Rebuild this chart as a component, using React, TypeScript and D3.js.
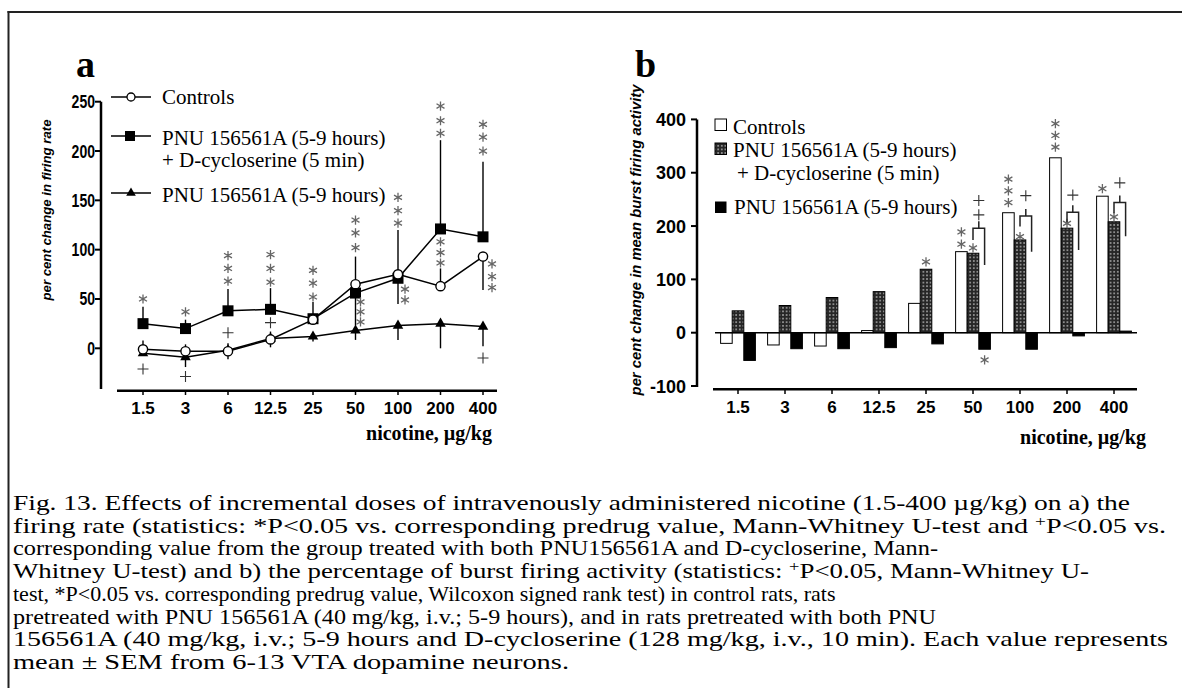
import React from "react";
import * as d3 from "d3";

// ---------- DATA ----------
const doses = ["1.5", "3", "6", "12.5", "25", "50", "100", "200", "400"];

// Panel a: per cent change in firing rate
const ctrlRate = [-1, -3, -3, 9, 29, 65, 75, 63, 93];
const dcsRate = [25, 20, 38, 39.5, 30, 56, 71, 121, 113];
const pnuRate = [-5, -9, -2, 10, 12, 18, 23, 25, 22];
// error bar end values (null = none drawn)
const ctrlRateErrUp = [8, 4, 5, 17, null, null, null, 81, null];
const ctrlRateErrDown = [null, null, -11, 1, null, 23, 45, null, 59];
const dcsRateErrUp = [42, 29, 60, 61, 47, 93, 120, 211, 189];
const pnuRateErrDown = [null, -19, null, null, 7, 8.5, 8.5, 0, 2];

// Panel b: per cent change in mean burst firing activity
const ctrlBurst = [-20, -23, -25, 4, 55, 152, 225, 328, 256];
const dcsBurst = [41, 51, 66, 77, 119, 149, 174, 196, 208];
const pnuBurst = [-52, -30, -30, -28, -21, -31, -31, -6, 3];

const yTicksA = [0, 50, 100, 150, 200, 250];
const yTicksB = [-100, 0, 100, 200, 300, 400];

// significance marks, panel a: [dose index, x offset, values of stacked marks]
const starsA: [number, number, number[]][] = [
  [0, 0, [50]],
  [1, 0, [37]],
  [2, 0, [94, 81, 68]],
  [3, 0, [95, 81, 67]],
  [4, 0, [79, 66, 52]],
  [5, 0, [130, 117, 102]],
  [6, 0, [153, 139.5, 127]],
  [7, 0, [245.6, 230.7, 218]],
  [8, 0, [227, 214, 200]],
  [7, 0, [108, 97, 86.5]],
  [5, 5, [47, 37, 26.7]],
  [6, 7, [60, 49]],
  [8, 9, [85.5, 72.7, 61.6]],
];
const plusA: [number, number][] = [
  [0, -21],
  [1, -28.6],
  [2, 15.8],
  [3, 26],
  [8, -9.8],
];

// panel b marks: [dose index, bar (0 ctrl,1 dcs,2 pnu), values]
const starsB: [number, number, number[]][] = [
  [4, 1, [133]],
  [5, 0, [189, 166]],
  [5, 1, [159]],
  [5, 2, [-51]],
  [6, 0, [288, 266, 244]],
  [6, 1, [180]],
  [7, 0, [392, 370, 348]],
  [7, 1, [205]],
  [8, 0, [270]],
  [8, 1, [217]],
];
// brackets: [dose index, top, left leg bottom, right leg bottom, plus values]
const bracketsB: [number, number, number, number, number[]][] = [
  [5, 196, 174, 127, [248, 221]],
  [6, 219, 199, 152, [257]],
  [7, 226, 207, 155, [258]],
  [8, 244, 224, 181, [281]],
];

const legendLabels = ["Controls", "PNU 156561A (5-9 hours)", "+ D-cycloserine (5 min)", "PNU 156561A (5-9 hours)"];

const captionLines: (string | { sup: string; text: string })[][] = [
  ["Fig. 13. Effects of incremental doses of intravenously administered nicotine (1.5-400 \u00b5g/kg) on a) the"],
  ["firing rate (statistics: *P<0.05 vs. corresponding predrug value, Mann-Whitney U-test and ", { sup: "+", text: "P<0.05 vs." }],
  ["corresponding value from the group treated with both PNU156561A and D-cycloserine, Mann-"],
  ["Whitney U-test) and b) the percentage of burst firing activity  (statistics: ", { sup: "+", text: "P<0.05, Mann-Whitney U-" }],
  ["test, *P<0.05 vs. corresponding predrug value, Wilcoxon signed rank test) in control rats, rats"],
  ["pretreated with PNU 156561A (40 mg/kg, i.v.; 5-9 hours), and in rats pretreated with both PNU"],
  ["156561A (40 mg/kg, i.v.; 5-9 hours and D-cycloserine (128 mg/kg, i.v., 10 min). Each value represents"],
  ["mean \u00b1 SEM from 6-13 VTA dopamine neurons."],
];
// target line widths (null = natural width)
const captionWidths: (number | null)[] = [1117, 1153, 925, 1076, null, 923, 1155, 556];

// ---------- STYLE ----------
const serif = "'Liberation Serif', 'Times New Roman', serif";
const sans = "'Liberation Sans', Arial, sans-serif";
const starColor = "#666";

function Star({ x, y }: { x: number; y: number }) {
  const r = 4.6;
  const a = r * Math.cos(Math.PI / 6);
  const b = r * Math.sin(Math.PI / 6);
  return (
    <path
      d={`M${x},${y - r}V${y + r}M${x - a},${y - b}L${x + a},${y + b}M${x - a},${y + b}L${x + a},${y - b}`}
      stroke={starColor}
      strokeWidth={1.3}
      fill="none"
    />
  );
}
function Plus({ x, y }: { x: number; y: number }) {
  const r = 5.5;
  return <path d={`M${x - r},${y}H${x + r}M${x},${y - r}V${y + r}`} stroke="#333" strokeWidth={1.1} fill="none" />;
}

export default function App() {
  // Panel a scales
  const xA = d3.scalePoint<string>().domain(doses).range([143, 483]);
  const yA = d3.scaleLinear().domain([0, 250]).range([348.3, 101.7]);
  // Panel b scales
  const xB = d3.scalePoint<string>().domain(doses).range([738, 1114]);
  const yB = d3.scaleLinear().domain([0, 400]).range([332.7, 119.4]);
  const barW = 11.6;
  const barX = (i: number, k: number) => (xB(doses[i]) as number) - 1.5 * barW + k * barW;

  const line = (vals: number[]) =>
    d3
      .line<number>()
      .x((_, i) => xA(doses[i]) as number)
      .y((d) => yA(d))(vals) as string;

  const tri = d3.symbol(d3.symbolTriangle, 48)() as string;
  const sq = d3.symbol(d3.symbolSquare, 121)() as string;
  const triL = d3.symbol(d3.symbolTriangle, 40)() as string;
  const sqL = d3.symbol(d3.symbolSquare, 100)() as string;

  const errLines = (vals: number[], ends: (number | null)[], key: string) =>
    ends.map((e, i) =>
      e === null ? null : (
        <line
          key={key + i}
          x1={xA(doses[i])}
          x2={xA(doses[i])}
          y1={yA(vals[i])}
          y2={yA(e)}
          stroke="#000"
          strokeWidth={1.4}
        />
      )
    );

  const seriesB = [ctrlBurst, dcsBurst, pnuBurst];
  const fillsB = ["#fff", "url(#chk)", "#000"];

  return (
    <svg width={1182} height={688} style={{ position: "absolute", left: 0, top: 0, background: "#fff" }}>
      <defs>
        <pattern id="chk" width={3.6} height={3.6} patternUnits="userSpaceOnUse">
          <rect width={3.6} height={3.6} fill="#262626" />
          <rect x={1.1} y={1.1} width={1.4} height={1.4} fill="#d0d0d0" />
        </pattern>
      </defs>
      {/* frame */}
      <line x1={8.5} x2={8.5} y1={11} y2={688} stroke="#222" strokeWidth={2} />
      <line x1={7.5} x2={1182} y1={12} y2={12} stroke="#222" strokeWidth={2} />

      {/* ---------------- PANEL A ---------------- */}
      <text x={76} y={77} fontFamily={serif} fontWeight="bold" fontSize={38}>
        a
      </text>
      {/* y axis */}
      <line x1={101} x2={101} y1={yA(250)} y2={389} stroke="#000" strokeWidth={2.5} />
      {yTicksA.map((t) => (
        <g key={t}>
          <line x1={95} x2={101} y1={yA(t)} y2={yA(t)} stroke="#000" strokeWidth={2} />
          <text
            transform={`translate(95,${yA(t) + 6.5}) scale(0.78,1)`}
            textAnchor="end"
            fontFamily={sans}
            fontWeight="bold"
            fontSize={18}
          >
            {t}
          </text>
        </g>
      ))}
      <text
        transform="translate(51,210) rotate(-90)"
        textAnchor="middle"
        fontFamily={sans}
        fontStyle="italic"
        fontWeight="bold"
        fontSize={13.2}
      >
        per cent change in firing rate
      </text>
      {/* x axis */}
      <line x1={117} x2={497} y1={390.7} y2={390.7} stroke="#000" strokeWidth={2.5} />
      {doses.map((d) => (
        <g key={d}>
          <line x1={xA(d)} x2={xA(d)} y1={390.7} y2={395} stroke="#000" strokeWidth={1.5} />
          <text x={xA(d)} y={414} textAnchor="middle" fontFamily={sans} fontWeight="bold" fontSize={17}>
            {d}
          </text>
        </g>
      ))}
      <text x={492} y={440} textAnchor="end" fontFamily={serif} fontWeight="bold" fontSize={20}>
        nicotine, µg/kg
      </text>

      {/* error bars */}
      {errLines(dcsRate, dcsRateErrUp, "du")}
      {errLines(ctrlRate, ctrlRateErrUp, "cu")}
      {errLines(ctrlRate, ctrlRateErrDown, "cd")}
      {errLines(pnuRate, pnuRateErrDown, "pd")}

      {/* lines */}
      <path d={line(pnuRate)} fill="none" stroke="#000" strokeWidth={1.5} />
      <path d={line(dcsRate)} fill="none" stroke="#000" strokeWidth={1.5} />
      <path d={line(ctrlRate)} fill="none" stroke="#000" strokeWidth={1.5} />
      {pnuRate.map((v, i) => (
        <path key={"pt" + i} d={tri} transform={`translate(${xA(doses[i])},${yA(v)})`} fill="#000" />
      ))}
      {dcsRate.map((v, i) => (
        <path key={"ds" + i} d={sq} transform={`translate(${xA(doses[i])},${yA(v)})`} fill="#000" />
      ))}
      {ctrlRate.map((v, i) => (
        <circle key={"cc" + i} cx={xA(doses[i])} cy={yA(v)} r={4.6} fill="#fff" stroke="#000" strokeWidth={1.4} />
      ))}

      {/* marks */}
      {starsA.map(([i, dx, vs], k) =>
        vs.map((v, j) => <Star key={`sa${k}-${j}`} x={(xA(doses[i]) as number) + dx} y={yA(v)} />)
      )}
      {plusA.map(([i, v], k) => (
        <Plus key={"pa" + k} x={xA(doses[i]) as number} y={yA(v)} />
      ))}

      {/* legend a */}
      <g>
        <line x1={111} x2={151} y1={97} y2={97} stroke="#000" strokeWidth={1.5} />
        <circle cx={131} cy={97} r={4} fill="#fff" stroke="#000" strokeWidth={1.3} />
        <text x={162} y={104} fontFamily={serif} fontSize={21}>
          {legendLabels[0]}
        </text>
        <line x1={111} x2={151} y1={136} y2={136} stroke="#000" strokeWidth={1.5} />
        <path d={sqL} transform="translate(130,136)" fill="#000" />
        <text x={162} y={145} fontFamily={serif} fontSize={21}>
          {legendLabels[1]}
        </text>
        <text x={162} y={167} fontFamily={serif} fontSize={21}>
          {legendLabels[2]}
        </text>
        <line x1={111} x2={151} y1={193} y2={193} stroke="#000" strokeWidth={1.5} />
        <path d={triL} transform="translate(131,193)" fill="#000" />
        <text x={162} y={202} fontFamily={serif} fontSize={21}>
          {legendLabels[3]}
        </text>
      </g>

      {/* ---------------- PANEL B ---------------- */}
      <text x={635} y={77} fontFamily={serif} fontWeight="bold" fontSize={38}>
        b
      </text>
      <line x1={697} x2={697} y1={yB(400)} y2={yB(-100) + 1} stroke="#000" strokeWidth={2.5} />
      {yTicksB.map((t) => (
        <g key={t}>
          <line x1={691} x2={697} y1={yB(t)} y2={yB(t)} stroke="#000" strokeWidth={2} />
          <text x={686} y={yB(t) + 6.5} textAnchor="end" fontFamily={sans} fontWeight="bold" fontSize={18}>
            {t}
          </text>
        </g>
      ))}
      <text
        transform="translate(641,240) rotate(-90)"
        textAnchor="middle"
        fontFamily={sans}
        fontStyle="italic"
        fontWeight="bold"
        fontSize={14.8}
      >
        per cent change in mean burst firing activity
      </text>
      <line x1={713} x2={1137} y1={389.3} y2={389.3} stroke="#000" strokeWidth={2.5} />
      {doses.map((d) => (
        <g key={"b" + d}>
          <line x1={xB(d)} x2={xB(d)} y1={389.3} y2={394} stroke="#000" strokeWidth={1.5} />
          <text x={xB(d)} y={413} textAnchor="middle" fontFamily={sans} fontWeight="bold" fontSize={17}>
            {d}
          </text>
        </g>
      ))}
      <text x={1146} y={444} textAnchor="end" fontFamily={serif} fontWeight="bold" fontSize={20}>
        nicotine, µg/kg
      </text>

      {/* bars */}
      {seriesB.map((vals, k) =>
        vals.map((v, i) => (
          <rect
            key={`bar${k}-${i}`}
            x={barX(i, k)}
            width={barW}
            y={Math.min(yB(v), yB(0))}
            height={Math.abs(yB(v) - yB(0))}
            fill={fillsB[k]}
            stroke="#000"
            strokeWidth={1}
          />
        ))
      )}
      <line x1={715} x2={1137} y1={yB(0)} y2={yB(0)} stroke="#000" strokeWidth={1.5} />

      {starsB.map(([i, k, vs], n) =>
        vs.map((v, j) => <Star key={`sb${n}-${j}`} x={barX(i, k) + barW / 2} y={yB(v)} />)
      )}
      {bracketsB.map(([i, top, lb, rb, pl], n) => {
        const xl = barX(i, 1) + barW / 2;
        const xr = barX(i, 2) + barW / 2;
        const xm = (xl + xr) / 2;
        return (
          <g key={"br" + n}>
            <path
              d={`M${xl},${yB(lb)}V${yB(top)}H${xr}V${yB(rb)}M${xm},${yB(top)}V${yB(top) - 7}`}
              fill="none"
              stroke="#222"
              strokeWidth={1.5}
            />
            {pl.map((v, j) => (
              <Plus key={j} x={xm} y={yB(v)} />
            ))}
          </g>
        );
      })}

      {/* legend b */}
      <g>
        <rect x={715} y={119} width={11.5} height={11.5} fill="#fff" stroke="#000" strokeWidth={1} />
        <text x={733} y={134} fontFamily={serif} fontSize={21}>
          {legendLabels[0]}
        </text>
        <rect x={715} y={143} width={11.5} height={11.5} fill="url(#chk)" stroke="#000" strokeWidth={1} />
        <text x={733} y={157} fontFamily={serif} fontSize={21}>
          {legendLabels[1]}
        </text>
        <text x={737} y={180} fontFamily={serif} fontSize={21}>
          {legendLabels[2]}
        </text>
        <rect x={715} y={201.5} width={11.5} height={11.5} fill="#000" />
        <text x={734} y={214} fontFamily={serif} fontSize={21}>
          {legendLabels[3]}
        </text>
      </g>

      {/* caption */}
      {captionLines.map((parts, li) => {
        const w = captionWidths[li];
        const fit = w === null ? {} : { textLength: w, lengthAdjust: "spacingAndGlyphs" };
        return (
          <text key={"cap" + li} x={13} y={510 + li * 22.7} fontFamily={serif} fontSize={22} {...fit}>
            {parts.map((p, pi) =>
              typeof p === "string" ? (
                <tspan key={pi}>{p}</tspan>
              ) : (
                <React.Fragment key={pi}>
                  <tspan fontSize={15} dy={-7}>
                    {p.sup}
                  </tspan>
                  <tspan dy={7}>{p.text}</tspan>
                </React.Fragment>
              )
            )}
          </text>
        );
      })}
    </svg>
  );
}
